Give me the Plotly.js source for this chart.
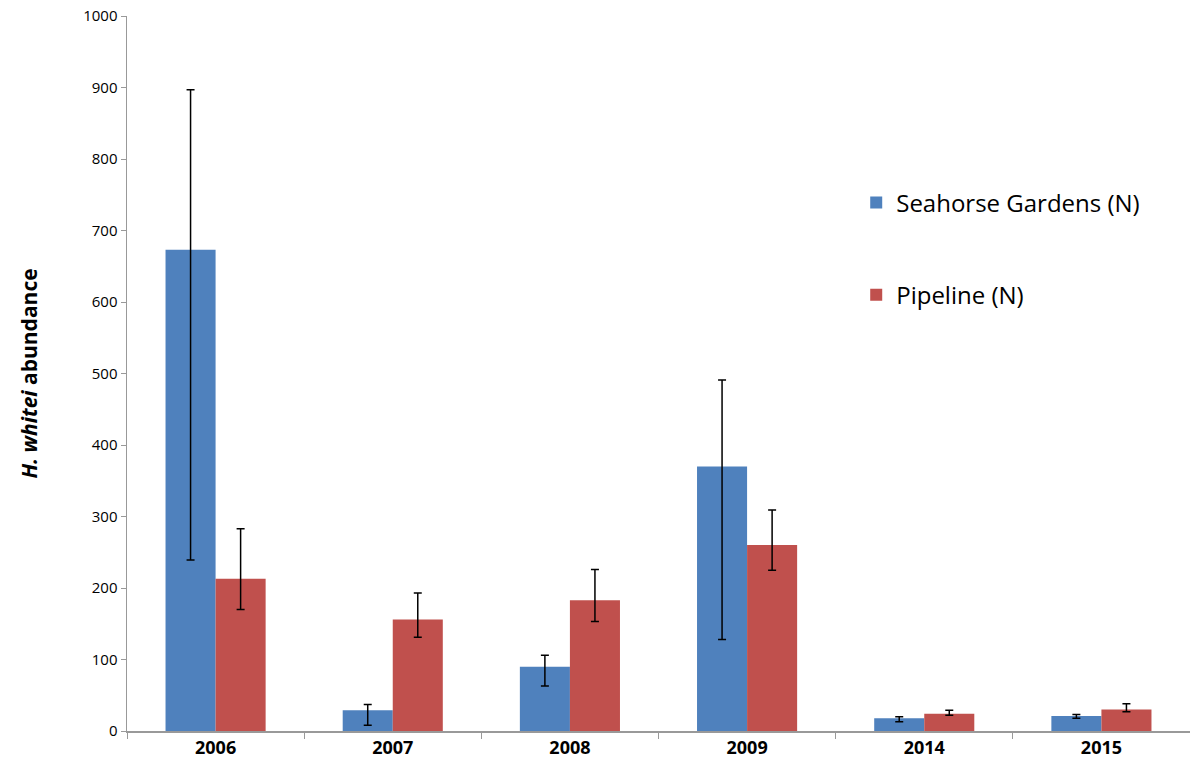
<!DOCTYPE html>
<html>
<head>
<meta charset="utf-8">
<script src="https://cdn.plot.ly/plotly-3.0.1.min.js"></script>
<style>html,body{margin:0;padding:0;background:#fff;}#chart{width:1190px;height:769px;}</style>
</head>
<body>
<div id="chart"></div>
<script>
var years = ["2006", "2007", "2008", "2009", "2014", "2015"];
var seahorseValues = [673, 29, 90, 370, 18, 21];
var seahorseErrUpper = [897, 37, 106, 491, 20, 23];
var seahorseErrLower = [239, 8, 63, 128, 13, 18];
var pipelineValues = [213, 156, 183, 260, 24, 30];
var pipelineErrUpper = [283, 193, 226, 309, 29, 38];
var pipelineErrLower = [170, 131, 153, 225, 22, 27];
var yTicks = [0, 100, 200, 300, 400, 500, 600, 700, 800, 900, 1000];

function diff(a, b) { return a.map(function (v, i) { return Math.max(0, v - b[i]); }); }

var errStyle = {type: 'data', symmetric: false, color: '#000', thickness: 1.5, width: 4};

var traces = [
  {
    type: 'bar', name: 'Seahorse Gardens (N)', x: years, y: seahorseValues,
    marker: {color: '#4F81BD'}, legendgroup: 'a',
    error_y: Object.assign({}, errStyle, {array: diff(seahorseErrUpper, seahorseValues), arrayminus: diff(seahorseValues, seahorseErrLower)})
  },
  {
    type: 'bar', name: 'Pipeline (N)', x: years, y: pipelineValues,
    marker: {color: '#C0504D'}, legendgroup: 'b',
    error_y: Object.assign({}, errStyle, {array: diff(pipelineErrUpper, pipelineValues), arrayminus: diff(pipelineValues, pipelineErrLower)})
  }
];

var layout = {
  width: 1190, height: 769,
  margin: {l: 127, r: 0, t: 16, b: 38},
  paper_bgcolor: '#fff', plot_bgcolor: '#fff',
  barmode: 'group', bargap: 0.435, bargroupgap: 0,
  font: {family: 'Open Sans, sans-serif', color: '#000'},
  showlegend: true,
  legend: {
    x: 0.686, y: 0.77, xanchor: 'left', yanchor: 'top',
    font: {size: 24, family: 'Open Sans, sans-serif', color: '#000'},
    traceorder: 'grouped', tracegroupgap: 58, itemwidth: 20,
    bgcolor: 'rgba(0,0,0,0)'
  },
  xaxis: {
    type: 'category', showline: true, linecolor: '#999', linewidth: 1.5,
    ticks: 'outside', tickson: 'boundaries', ticklen: 6, tickcolor: '#999',
    showgrid: false, zeroline: false,
    tickfont: {size: 18, family: 'Open Sans, sans-serif', weight: 'bold', color: '#000'}
  },
  yaxis: {
    range: [0, 1000], tickvals: yTicks, ticktext: yTicks.map(String),
    showline: true, linecolor: '#999', linewidth: 1.5,
    ticks: 'outside', ticklen: 5, tickcolor: '#999',
    showgrid: false, zeroline: false,
    tickfont: {size: 15, family: 'Open Sans, sans-serif', color: '#000'},
    title: {text: '<b><i>H. whitei</i> abundance</b>', font: {size: 21, family: 'Open Sans, sans-serif', color: '#000'}, standoff: 40}
  }
};

Plotly.newPlot('chart', traces, layout, {displayModeBar: false, staticPlot: true});
</script>
</body>
</html>
